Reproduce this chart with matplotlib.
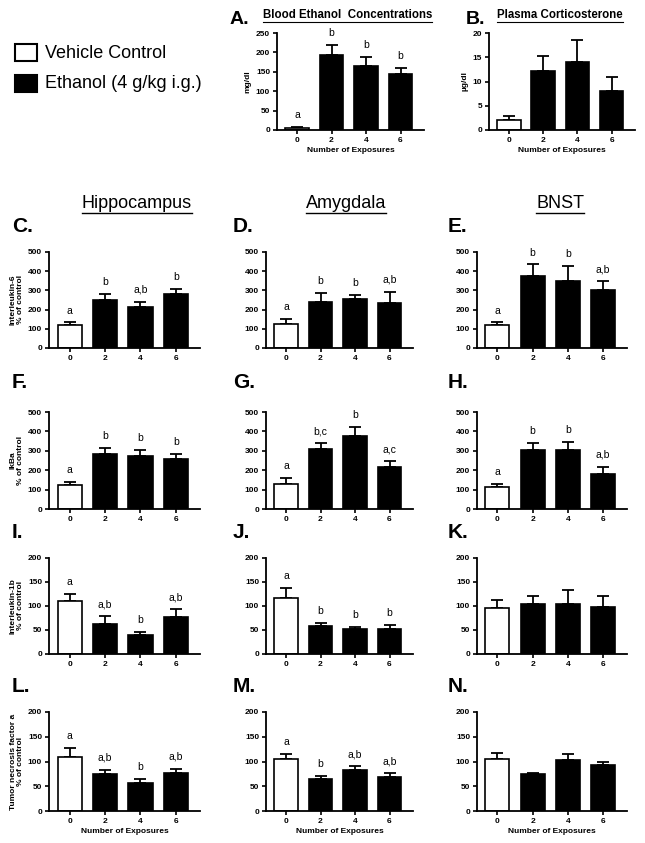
import matplotlib
matplotlib.use("Agg")
import matplotlib.pyplot as plt
from matplotlib.patches import Rectangle

plt.rcParams['font.family'] = ['Liberation Sans', 'DejaVu Sans']

exposures = ["0", "2", "4", "6"]

bec_mean = [6, 194, 166, 144]
bec_err = [2, 25, 23, 17]
bec_letters = ["a", "b", "b", "b"]

cort_mean = [2.0, 12.1, 14.1, 8.1]
cort_err = [0.9, 3.2, 4.5, 2.9]

il6_hip = [119, 250, 212, 281]
il6_hip_err = [14, 29, 29, 24]
il6_hip_letters = ["a", "b", "a,b", "b"]
il6_amy = [123, 240, 254, 233]
il6_amy_err = [30, 46, 23, 60]
il6_amy_letters = ["a", "b", "b", "a,b"]
il6_bnst = [119, 374, 351, 304]
il6_bnst_err = [14, 61, 75, 44]
il6_bnst_letters = ["a", "b", "b", "a,b"]

ikba_hip = [122, 286, 272, 260]
ikba_hip_err = [18, 31, 31, 26]
ikba_hip_letters = ["a", "b", "b", "b"]
ikba_amy = [128, 309, 376, 214]
ikba_amy_err = [31, 31, 45, 32]
ikba_amy_letters = ["a", "b,c", "b", "a,c"]
ikba_bnst = [113, 302, 302, 182]
ikba_bnst_err = [14, 36, 44, 36]
ikba_bnst_letters = ["a", "b", "b", "a,b"]

il1b_hip = [111, 62, 40, 77]
il1b_hip_err = [15, 17, 6, 16]
il1b_hip_letters = ["a", "a,b", "b", "a,b"]
il1b_amy = [116, 58, 52, 52]
il1b_amy_err = [21, 6, 5, 8]
il1b_amy_letters = ["a", "b", "b", "b"]
il1b_bnst = [95, 105, 105, 97]
il1b_bnst_err = [17, 15, 28, 23]

tnf_hip = [109, 74, 56, 77]
tnf_hip_err = [18, 9, 8, 8]
tnf_hip_letters = ["a", "a,b", "b", "a,b"]
tnf_amy = [106, 65, 83, 68]
tnf_amy_err = [9, 6, 8, 8]
tnf_amy_letters = ["a", "b", "a,b", "a,b"]
tnf_bnst = [106, 74, 104, 92]
tnf_bnst_err = [12, 2, 11, 8]

W, H = 645, 843
fig = plt.figure(figsize=(W / 100, H / 100), dpi=100)


def add_ax(left, right, top, bottom):
    return fig.add_axes([left / W, 1 - bottom / H, (right - left) / W, (bottom - top) / H])


def panel(ax, means, errs, ymax, yticks, letters=None, ylabel=None, xlabel=False):
    x = list(range(len(means)))
    colors = ["white"] + ["black"] * (len(means) - 1)
    ax.bar(x, means, width=0.68, color=colors, edgecolor="black", linewidth=1.2, zorder=2)
    ax.errorbar(x, means, yerr=[[0] * len(errs), errs], fmt="none", ecolor="black",
                elinewidth=1.3, capsize=4.5, capthick=1.3, zorder=1)
    ax.set_xlim(-0.58, 3.68)
    ax.set_ylim(0, ymax)
    ax.set_yticks(yticks)
    ax.set_xticks(x)
    ax.set_xticklabels(exposures)
    for s in ["top", "right"]:
        ax.spines[s].set_visible(False)
    for s in ["left", "bottom"]:
        ax.spines[s].set_linewidth(1.3)
    ax.tick_params(axis="both", direction="out", length=3, width=1.2, pad=2,
                   labelsize=6)
    for lab in ax.get_xticklabels() + ax.get_yticklabels():
        lab.set_fontweight("bold")
    if letters:
        for xi, m, e, t in zip(x, means, errs, letters):
            ax.annotate(t, (xi, m + e), xytext=(0, 5), textcoords="offset points",
                        ha="center", va="bottom", fontsize=7.5)
    if ylabel:
        ax.set_ylabel(ylabel, fontsize=6, fontweight="bold", labelpad=3, linespacing=1.0)
    if xlabel:
        ax.set_xlabel("Number of Exposures", fontsize=6, fontweight="bold", labelpad=2)


def letter(x, y, t, size=15):
    fig.text(x / W, 1 - y / H, t, fontsize=size, fontweight="bold", ha="left", va="center")


def heading(x, y, t, size=13, weight="normal", ha="center"):
    txt = fig.text(x / W, 1 - y / H, t, fontsize=size, fontweight=weight, ha=ha, va="center")
    return txt


def underline(txt, lw=1.0):
    fig.canvas.draw()
    bb = txt.get_window_extent()
    y = bb.y0 - 1
    fig.add_artist(plt.Line2D([bb.x0 / W, bb.x1 / W], [y / H, y / H], color="black", lw=lw))


# Legend
fig.add_artist(Rectangle((15 / W, 1 - 61 / H), 22 / W, 17 / H, facecolor="white",
                         edgecolor="black", lw=1.5))
fig.add_artist(Rectangle((15 / W, 1 - 92 / H), 22 / W, 17 / H, facecolor="black",
                         edgecolor="black", lw=1.5))
heading(45, 53, "Vehicle Control", size=13, ha="left")
heading(45, 84, "Ethanol (4 g/kg i.g.)", size=13, ha="left")

# Top panels
axA = add_ax(277, 424, 33, 130)
panel(axA, bec_mean, bec_err, 250, [0, 50, 100, 150, 200, 250], bec_letters,
      ylabel="mg/dl", xlabel=True)
axB = add_ax(489, 635, 33, 130)
panel(axB, cort_mean, cort_err, 20, [0, 5, 10, 15, 20], None, ylabel="µg/dl", xlabel=True)
letter(230, 19, "A.", 14)
letter(466, 20, "B.", 14)
tA = heading(263, 15, "Blood Ethanol  Concentrations", size=8.3, weight="bold", ha="left")
tB = heading(497, 15, "Plasma Corticosterone", size=8.3, weight="bold", ha="left")

# Column headings
tH = heading(137, 203, "Hippocampus")
tAm = heading(346, 203, "Amygdala")
tBn = heading(560, 203, "BNST")

cols = [(49, 200), (266, 413), (477, 627)]
rows = [(252, 348), (412, 509), (558, 654), (712, 811)]

grid = [
    [(il6_hip, il6_hip_err, il6_hip_letters), (il6_amy, il6_amy_err, il6_amy_letters),
     (il6_bnst, il6_bnst_err, il6_bnst_letters)],
    [(ikba_hip, ikba_hip_err, ikba_hip_letters), (ikba_amy, ikba_amy_err, ikba_amy_letters),
     (ikba_bnst, ikba_bnst_err, ikba_bnst_letters)],
    [(il1b_hip, il1b_hip_err, il1b_hip_letters), (il1b_amy, il1b_amy_err, il1b_amy_letters),
     (il1b_bnst, il1b_bnst_err, None)],
    [(tnf_hip, tnf_hip_err, tnf_hip_letters), (tnf_amy, tnf_amy_err, tnf_amy_letters),
     (tnf_bnst, tnf_bnst_err, None)],
]
ylabels = ["Interleukin-6\n% of control", "IkBa\n% of control",
           "Interleukin-1b\n% of control", "Tumor necrosis factor a\n% of control"]
ymaxes = [500, 500, 200, 200]
yticks_list = [[0, 100, 200, 300, 400, 500], [0, 100, 200, 300, 400, 500],
               [0, 50, 100, 150, 200], [0, 50, 100, 150, 200]]
panel_letters = [["C.", "D.", "E."], ["F.", "G.", "H."], ["I.", "J.", "K."], ["L.", "M.", "N."]]
letter_y = [227, 383, 533, 687]
letter_x = [12, 233, 448]

for r, (top, bottom) in enumerate(rows):
    for c, (left, right) in enumerate(cols):
        ax = add_ax(left, right, top, bottom)
        m, e, l = grid[r][c]
        panel(ax, m, e, ymaxes[r], yticks_list[r], l,
              ylabel=ylabels[r] if c == 0 else None, xlabel=(r == 3))
        letter(letter_x[c], letter_y[r], panel_letters[r][c])

for t in [tA, tB]:
    underline(t, 0.8)
for t in [tH, tAm, tBn]:
    underline(t, 1.0)

fig.savefig("out.png", dpi=100)
